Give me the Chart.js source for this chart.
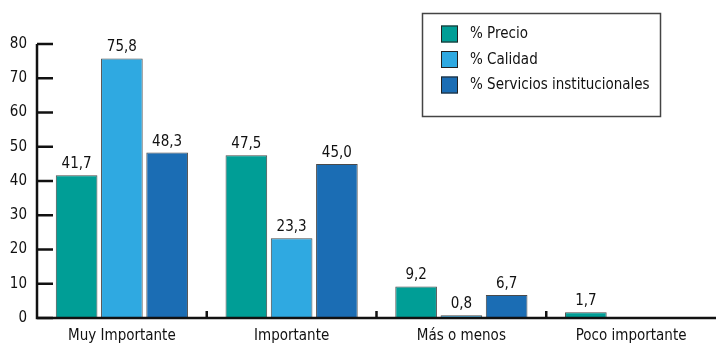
<!DOCTYPE html>
<html>
<head>
<meta charset="utf-8">
<script src="https://cdn.jsdelivr.net/npm/chart.js@4.4.1/dist/chart.umd.min.js"></script>
<style>
    html, body { margin: 0; padding: 0; background: #fff; }
    #wrap { width: 716px; height: 343px; position: relative; }
</style>
</head>
<body>
<div id="wrap"><canvas id="chart"></canvas></div>
<script>
const categories = ['Muy Importante', 'Importante', 'Más o menos', 'Poco importante'];
const seriesNames = ['% Precio', '% Calidad', '% Servicios institucionales'];
const precio = [41.7, 47.5, 9.2, 1.7];
const calidad = [75.8, 23.3, 0.8, null];
const servicios = [48.3, 45.0, 6.7, null];
const yTicks = [0, 10, 20, 30, 40, 50, 60, 70, 80];

const colors = ['#009e96', '#2fa9e1', '#1b6db4'];
const FONT = '"Liberation Sans Narrow", "DejaVu Sans Condensed", "Roboto", sans-serif';
const FS = 15;

function fmt(v) {
    return v.toFixed(1).replace('.', ',');
}

// value labels above every bar
const valueLabels = {
    id: 'valueLabels',
    afterDatasetsDraw(chart) {
        const ctx = chart.ctx;
        ctx.save();
        ctx.font = FS + 'px ' + FONT;
        ctx.fillStyle = '#111';
        ctx.textAlign = 'center';
        ctx.textBaseline = 'alphabetic';
        chart.data.datasets.forEach(function (ds, i) {
            chart.getDatasetMeta(i).data.forEach(function (bar, j) {
                if (ds.data[j] == null) return;
                ctx.fillText(fmt(ds.data[j]), bar.x, bar.y - 7);
            });
        });
        ctx.restore();
    }
};

// axis lines, inward y ticks and short category separators
const axisMarks = {
    id: 'axisMarks',
    afterDatasetsDraw(chart) {
        const ctx = chart.ctx;
        const area = chart.chartArea;
        const y = chart.scales.y;
        const x = chart.scales.x;
        ctx.save();
        ctx.strokeStyle = '#111';
        ctx.lineWidth = 2.5;
        ctx.beginPath();
        ctx.moveTo(area.left, y.getPixelForValue(80));
        ctx.lineTo(area.left, area.bottom);
        ctx.lineTo(area.right, area.bottom);
        ctx.stroke();
        yTicks.forEach(function (t) {
            const py = y.getPixelForValue(t);
            ctx.beginPath();
            ctx.moveTo(area.left, py);
            ctx.lineTo(area.left + 16, py);
            ctx.stroke();
        });
        for (let i = 1; i < categories.length; i++) {
            const px = (x.getPixelForValue(i - 1) + x.getPixelForValue(i)) / 2;
            ctx.beginPath();
            ctx.moveTo(px, area.bottom);
            ctx.lineTo(px, area.bottom - 7);
            ctx.stroke();
        }
        ctx.restore();
    }
};

// boxed legend in the upper right
const boxLegend = {
    id: 'boxLegend',
    afterDraw(chart) {
        const ctx = chart.ctx;
        ctx.save();
        ctx.strokeStyle = '#444';
        ctx.lineWidth = 1.5;
        ctx.strokeRect(422.5, 13.5, 238, 103);
        ctx.font = FS + 'px ' + FONT;
        ctx.textBaseline = 'middle';
        chart.data.datasets.forEach(function (ds, i) {
            const cy = 33.5 + i * 25.5;
            ctx.fillStyle = ds.backgroundColor;
            ctx.fillRect(441, cy - 8, 17, 17);
            ctx.strokeStyle = '#222';
            ctx.lineWidth = 1;
            ctx.strokeRect(441.5, cy - 7.5, 16, 16);
            ctx.fillStyle = '#111';
            ctx.fillText(ds.label, 470, cy + 1);
        });
        ctx.restore();
    }
};

function makeSet(i, data) {
    return {
        label: seriesNames[i],
        data: data,
        backgroundColor: colors[i],
        borderColor: '#4a4a4a',
        borderWidth: 1,
        categoryPercentage: 0.8,
        barPercentage: 0.92
    };
}

new Chart(document.getElementById('chart'), {
    type: 'bar',
    data: {
        labels: categories,
        datasets: [makeSet(0, precio), makeSet(1, calidad), makeSet(2, servicios)]
    },
    options: {
        responsive: true,
        maintainAspectRatio: false,
        animation: false,
        layout: { padding: { top: 44, right: 0, left: 0, bottom: 0 } },
        plugins: {
            legend: { display: false },
            tooltip: { enabled: false }
        },
        scales: {
            x: {
                grid: { display: false, drawTicks: false },
                border: { display: false },
                ticks: {
                    font: { family: FONT, size: FS },
                    color: '#111',
                    padding: 9,
                    maxRotation: 0
                },
                afterFit: function (s) { s.height = 25; }
            },
            y: {
                min: 0,
                max: 80,
                grid: { display: false, drawTicks: false },
                border: { display: false },
                afterBuildTicks: function (s) {
                    s.ticks = yTicks.map(function (v) { return { value: v }; });
                },
                ticks: {
                    font: { family: FONT, size: FS },
                    color: '#111',
                    padding: 10
                },
                afterFit: function (s) { s.width = 37; }
            }
        }
    },
    plugins: [valueLabels, axisMarks, boxLegend]
});
</script>
</body>
</html>
